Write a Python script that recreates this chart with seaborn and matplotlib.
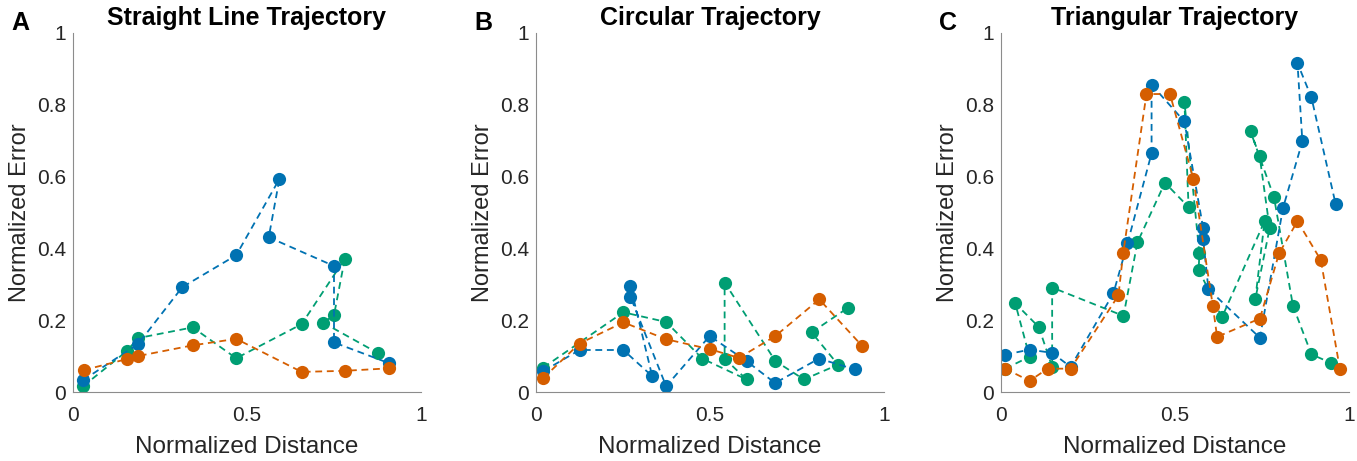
import pandas as pd
import matplotlib
matplotlib.use("Agg")
import matplotlib.pyplot as plt
import seaborn as sns

# --- values (in trajectory order) ---
panel_titles = ["Straight Line Trajectory", "Circular Trajectory", "Triangular Trajectory"]
panel_letters = ["A", "B", "C"]

# A: straight line
line_blue_x = [0.029, 0.1875, 0.314, 0.469, 0.593, 0.5625, 0.75, 0.75, 0.909]
line_blue_y = [0.033, 0.134, 0.292, 0.381, 0.593, 0.431, 0.351, 0.138, 0.080]
line_orange_x = [0.031, 0.156, 0.186, 0.344, 0.469, 0.657, 0.781, 0.909]
line_orange_y = [0.061, 0.092, 0.100, 0.130, 0.148, 0.056, 0.059, 0.066]
line_green_x = [0.029, 0.156, 0.186, 0.344, 0.469, 0.657, 0.781, 0.75, 0.719, 0.877]
line_green_y = [0.016, 0.115, 0.150, 0.180, 0.094, 0.189, 0.371, 0.214, 0.193, 0.108]

# B: circular
circ_blue_x = [0.021, 0.125, 0.251, 0.334, 0.2715, 0.2715, 0.374, 0.499, 0.605, 0.687, 0.813, 0.9165]
circ_blue_y = [0.058, 0.117, 0.117, 0.044, 0.295, 0.265, 0.016, 0.156, 0.086, 0.025, 0.093, 0.063]
circ_orange_x = [0.021, 0.125, 0.251, 0.374, 0.501, 0.583, 0.688, 0.814, 0.9375]
circ_orange_y = [0.039, 0.135, 0.194, 0.147, 0.119, 0.095, 0.156, 0.258, 0.128]
circ_green_x = [0.021, 0.251, 0.374, 0.478, 0.605, 0.542, 0.542, 0.688, 0.770, 0.868, 0.792, 0.897]
circ_green_y = [0.068, 0.222, 0.195, 0.093, 0.035, 0.093, 0.305, 0.086, 0.035, 0.076, 0.166, 0.235]

# C: triangular
tri_blue_x = [0.012, 0.082, 0.147, 0.200, 0.323, 0.3635, 0.4327, 0.4327, 0.527, 0.581, 0.581,
              0.596, 0.744, 0.8106, 0.866, 0.852, 0.892, 0.9615]
tri_blue_y = [0.104, 0.118, 0.109, 0.070, 0.275, 0.414, 0.665, 0.856, 0.7535, 0.456, 0.425,
              0.2865, 0.151, 0.5135, 0.698, 0.916, 0.8205, 0.524]
tri_orange_x = [0.012, 0.082, 0.134, 0.200, 0.3375, 0.351, 0.418, 0.4856, 0.553, 0.6087, 0.621,
                0.744, 0.799, 0.852, 0.919, 0.974]
tri_orange_y = [0.065, 0.031, 0.065, 0.065, 0.269, 0.386, 0.830, 0.830, 0.5926, 0.240, 0.1535,
                0.2047, 0.386, 0.476, 0.3674, 0.0633]
tri_green_x = [0.012, 0.082, 0.041, 0.1085, 0.147, 0.147, 0.352, 0.392, 0.471, 0.539, 0.527,
               0.570, 0.568, 0.635, 0.7575, 0.7306, 0.772, 0.743, 0.717, 0.7845, 0.839, 0.892, 0.948]
tri_green_y = [0.065, 0.098, 0.247, 0.181, 0.070, 0.291, 0.212, 0.4167, 0.583, 0.515, 0.809,
               0.386, 0.340, 0.208, 0.476, 0.258, 0.456, 0.658, 0.726, 0.5425, 0.240, 0.105, 0.081]

x_ticks = [0, 0.5, 1]
x_tick_labels = ["0", "0.5", "1"]
y_ticks = [0, 0.2, 0.4, 0.6, 0.8, 1]
y_tick_labels = ["0", "0.2", "0.4", "0.6", "0.8", "1"]

colors = {"blue": "#0072B2", "orange": "#D55E00", "green": "#009E73"}


def make_frame(series):
    rows = []
    for name, xs, ys in series:
        for i, (xv, yv) in enumerate(zip(xs, ys)):
            rows.append({"series": name, "step": i, "x": xv, "y": yv})
    return pd.DataFrame(rows)


panels = [
    make_frame([("green", line_green_x, line_green_y),
                ("blue", line_blue_x, line_blue_y),
                ("orange", line_orange_x, line_orange_y)]),
    make_frame([("green", circ_green_x, circ_green_y),
                ("blue", circ_blue_x, circ_blue_y),
                ("orange", circ_orange_x, circ_orange_y)]),
    make_frame([("green", tri_green_x, tri_green_y),
                ("blue", tri_blue_x, tri_blue_y),
                ("orange", tri_orange_x, tri_orange_y)]),
]

sns.set_theme(style="white")
plt.rcParams["font.family"] = ["Liberation Sans", "DejaVu Sans"]

W, H = 1357, 461
fig = plt.figure(figsize=(W / 100, H / 100), dpi=100)
lefts_px = [73, 536, 1001]
width = 348 / W
bottom = 1 - 392 / H
height = 359 / H

for k, df in enumerate(panels):
    ax = fig.add_axes([lefts_px[k] / W, bottom, width, height])
    for name in ["green", "blue", "orange"]:
        sub = df[df["series"] == name]
        sns.lineplot(data=sub, x="x", y="y", sort=False, estimator=None, ax=ax,
                     color=colors[name], marker="o", markersize=9.5,
                     markeredgecolor=colors[name], markeredgewidth=0,
                     linewidth=1.3, linestyle=(0, (3.8, 2.6)))

    ax.set_xlim(0, 1)
    ax.set_ylim(0, 1)
    ax.set_xticks(x_ticks)
    ax.set_xticklabels(x_tick_labels)
    ax.set_yticks(y_ticks)
    ax.set_yticklabels(y_tick_labels)
    ax.tick_params(direction="in", length=4, width=0.8, colors="#8c8c8c",
                   labelcolor="#262626", labelsize=15)
    ax.tick_params(axis="x", pad=10)
    ax.tick_params(axis="y", pad=5)
    for side in ["top", "right"]:
        ax.spines[side].set_visible(False)
    for side in ["left", "bottom"]:
        ax.spines[side].set_color("#8c8c8c")
        ax.spines[side].set_linewidth(0.8)
    ax.set_xlabel("Normalized Distance", fontsize=17.5, color="#262626", labelpad=8)
    ax.set_ylabel("Normalized Error", fontsize=17, color="#262626", labelpad=4)
    ax.set_title(panel_titles[k], fontsize=18, fontweight="bold", color="black", pad=5.5)
    fig.text((lefts_px[k] - 62) / W, 1 - 30 / H, panel_letters[k], fontsize=18,
             fontweight="bold", color="black", ha="left", va="baseline")

fig.savefig("out.png", dpi=100)
